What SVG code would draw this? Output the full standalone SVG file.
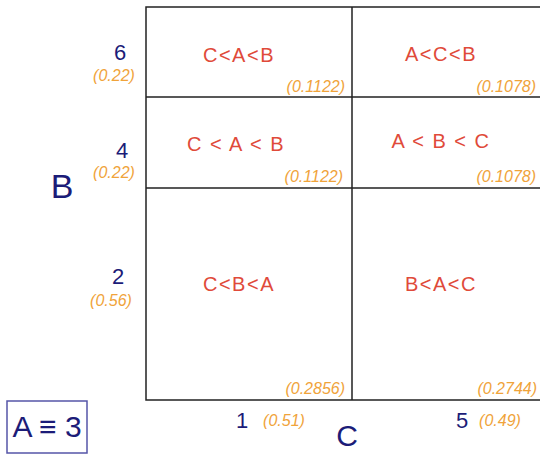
<svg xmlns="http://www.w3.org/2000/svg" width="540" height="455" viewBox="0 0 540 455">
<style>
text{font-family:"Liberation Sans","DejaVu Sans",sans-serif}
.grid{stroke:#222;stroke-width:1.5;fill:none}
.ord{fill:#e04a3a;font-size:20px;text-anchor:middle;letter-spacing:1.5px}
.p{fill:#f0a33a;font-size:16px;font-style:italic;text-anchor:end}
.pl{fill:#f0a33a;font-size:16px;font-style:italic;text-anchor:middle}
.val{fill:#1c1c78;font-size:22px;text-anchor:middle}
.ax{fill:#1c1c78;font-size:34px;text-anchor:middle}
</style>
<rect width="540" height="455" fill="#fff"/>
<g id="grid">
<path class="grid" d="M540,7 H146 V400 H540 M146,97 H540 M146,188 H540 M352,7 V400"/>
</g>
<g id="cell-6-1"><text class="ord" x="239" y="62">C&lt;A&lt;B</text><text class="p" x="345" y="92">(0.1122)</text></g>
<g id="cell-6-5"><text class="ord" x="441" y="61">A&lt;C&lt;B</text><text class="p" x="536" y="92">(0.1078)</text></g>
<g id="cell-4-1"><text class="ord" x="236" y="151">C &lt; A &lt; B</text><text class="p" x="343" y="182">(0.1122)</text></g>
<g id="cell-4-5"><text class="ord" x="441" y="148">A &lt; B &lt; C</text><text class="p" x="536" y="182">(0.1078)</text></g>
<g id="cell-2-1"><text class="ord" x="239" y="291">C&lt;B&lt;A</text><text class="p" x="345" y="394">(0.2856)</text></g>
<g id="cell-2-5"><text class="ord" x="441" y="291">B&lt;A&lt;C</text><text class="p" x="537" y="394">(0.2744)</text></g>
<g id="axis-B">
<text class="ax" x="62" y="198">B</text>
<text class="val" x="120" y="60">6</text><text class="pl" x="114" y="81">(0.22)</text>
<text class="val" x="122" y="158">4</text><text class="pl" x="114" y="178">(0.22)</text>
<text class="val" x="118" y="284">2</text><text class="pl" x="111" y="306">(0.56)</text>
</g>
<g id="axis-C">
<text class="ax" x="347" y="446" style="font-size:30px">C</text>
<text class="val" x="242" y="428">1</text><text class="pl" x="284" y="426">(0.51)</text>
<text class="val" x="462" y="428">5</text><text class="pl" x="500" y="426">(0.49)</text>
</g>
<g id="note">
<rect x="7" y="401" width="80" height="52" fill="none" stroke="#5555a8" stroke-width="1.5"/>
<text x="47" y="437" fill="#1c1c78" font-size="30" text-anchor="middle">A ≡ 3</text>
</g>
</svg>
